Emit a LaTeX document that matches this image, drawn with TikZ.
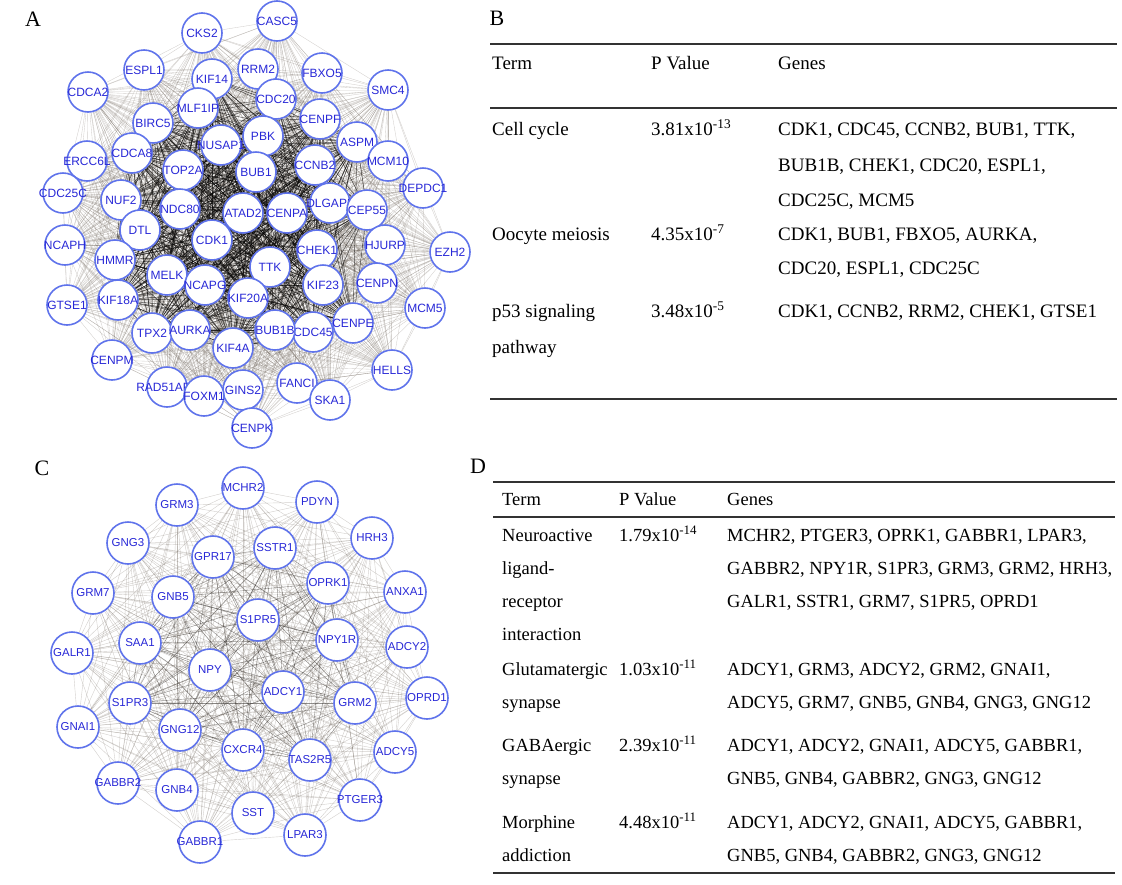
\documentclass[tikz,border=0pt]{standalone}
\usepackage{fontspec}
\setmainfont{Liberation Serif}
\newfontfamily\gfont{Liberation Sans}
\pgfdeclarelayer{bg}
\pgfsetlayers{bg,main}
\definecolor{nodeblue}{RGB}{95,115,235}
\definecolor{txtblue}{RGB}{40,40,215}
\definecolor{rulegray}{RGB}{50,50,50}
\definecolor{edgegray}{RGB}{105,95,85}
\tikzset{
 gA/.style={circle, draw=nodeblue, line width=1.6pt, fill=white, minimum size=40pt, inner sep=0pt, text=txtblue, font=\gfont\fontsize{12}{12}\selectfont},
 gC/.style={gA, minimum size=42pt, font=\gfont\fontsize{11.5}{12}\selectfont},
 edgeA/.style={draw=edgegray, opacity=0.3, line width=0.35pt},
 edgeCore/.style={draw=black, opacity=0.6, line width=0.45pt},
 edgeC/.style={draw=edgegray, opacity=0.3, line width=0.4pt},
 edgeCcore/.style={draw=black, opacity=0.3, line width=0.4pt},
 tb/.style={anchor=base west, inner sep=0pt, font=\fontsize{19}{19}\selectfont},
 tbd/.style={tb, font=\fontsize{18.5}{19}\selectfont},
 tbrule/.style={draw=rulegray, line width=2.2pt},
 plabel/.style={font=\fontsize{22}{22}\selectfont, inner sep=0pt}
}
\newcommand\gnA[3]{\node[gA] (#1) at (#2) {\makebox[0pt]{#3}};}
\newcommand\gnC[3]{\node[gC] (#1) at (#2) {\makebox[0pt]{#3}};}
\newcommand\meshall[2]{%
  \foreach \a [count=\i] in #1 {
    \foreach \b [count=\j] in #1 {
      \ifnum\j>\i \draw[#2] (\a) -- (\b); \fi
    }
  }}
\begin{document}
\begin{tikzpicture}[x=1pt,y=-1pt]
\useasboundingbox (0,0) rectangle (1122,884);
% ---------- Panel A ----------
\node[plabel] (labA) at (33,19) {A};
\gnA{CASC5}{277,21}{CASC5}
\gnA{CKS2}{202,33}{CKS2}
\gnA{ESPL1}{144,70}{ESPL1}
\gnA{CDCA2}{88,92}{CDCA2}
\gnA{SMC4}{388,90}{SMC4}
\gnA{FBXO5}{322,73}{FBXO5}
\gnA{RRM2}{258,69}{RRM2}
\gnA{KIF14}{212,79}{KIF14}
\gnA{CDC20}{276,99}{CDC20}
\gnA{MLF1IP}{198,108}{MLF1IP}
\gnA{CENPF}{320,119}{CENPF}
\gnA{BIRC5}{153,123}{BIRC5}
\gnA{NUSAP1}{221,145}{NUSAP1}
\gnA{PBK}{263,136}{PBK}
\gnA{ASPM}{357,142}{ASPM}
\gnA{ERCC6L}{87,161}{ERCC6L}
\gnA{CDCA8}{132,153}{CDCA8}
\gnA{MCM10}{388,161}{MCM10}
\gnA{TOP2A}{183,170}{TOP2A}
\gnA{CCNB2}{315,165}{CCNB2}
\gnA{BUB1}{256,172}{BUB1}
\gnA{DEPDC1}{423,188}{DEPDC1}
\gnA{CDC25C}{63,193}{CDC25C}
\gnA{NUF2}{121,200}{NUF2}
\gnA{NDC80}{180,209}{NDC80}
\gnA{DLGAP5}{330,203}{DLGAP5}
\gnA{CEP55}{367,210}{CEP55}
\gnA{ATAD2}{243,213}{ATAD2}
\gnA{CENPA}{287,213}{CENPA}
\gnA{DTL}{140,230}{DTL}
\gnA{CDK1}{212,240}{CDK1}
\gnA{NCAPH}{65,245}{NCAPH}
\gnA{HMMR}{115,260}{HMMR}
\gnA{HJURP}{385,245}{HJURP}
\gnA{CHEK1}{317,250}{CHEK1}
\gnA{EZH2}{450,252}{EZH2}
\gnA{MELK}{167,275}{MELK}
\gnA{NCAPG}{205,285}{NCAPG}
\gnA{TTK}{270,267}{TTK}
\gnA{CENPN}{377,283}{CENPN}
\gnA{KIF23}{323,285}{KIF23}
\gnA{GTSE1}{67,305}{GTSE1}
\gnA{KIF18A}{118,300}{KIF18A}
\gnA{KIF20A}{248,298}{KIF20A}
\gnA{MCM5}{425,308}{MCM5}
\gnA{CENPE}{353,323}{CENPE}
\gnA{CDC45}{313,332}{CDC45}
\gnA{BUB1B}{275,330}{BUB1B}
\gnA{TPX2}{152,333}{TPX2}
\gnA{AURKA}{190,330}{AURKA}
\gnA{KIF4A}{233,348}{KIF4A}
\gnA{CENPM}{112,360}{CENPM}
\gnA{HELLS}{392,370}{HELLS}
\gnA{FANCI}{297,383}{FANCI}
\gnA{SKA1}{330,400}{SKA1}
\gnA{GINS2}{243,390}{GINS2}
\gnA{RAD51AP1}{167,387}{RAD51AP1}
\gnA{FOXM1}{204,396}{FOXM1}
\gnA{CENPK}{252,428}{CENPK}
\def\listA{CASC5,CKS2,ESPL1,CDCA2,SMC4,FBXO5,RRM2,KIF14,CDC20,MLF1IP,CENPF,BIRC5,NUSAP1,PBK,ASPM,ERCC6L,CDCA8,MCM10,TOP2A,CCNB2,BUB1,DEPDC1,CDC25C,NUF2,NDC80,DLGAP5,CEP55,ATAD2,CENPA,DTL,CDK1,NCAPH,HMMR,HJURP,CHEK1,EZH2,MELK,NCAPG,TTK,CENPN,KIF23,GTSE1,KIF18A,KIF20A,MCM5,CENPE,CDC45,BUB1B,TPX2,AURKA,KIF4A,CENPM,HELLS,FANCI,SKA1,GINS2,RAD51AP1,FOXM1,CENPK}
\def\coreA{NUSAP1,PBK,BUB1,TOP2A,NDC80,ATAD2,CENPA,CDK1,TTK,NCAPG,MELK,KIF20A,CHEK1,CCNB2,DLGAP5,KIF23,BUB1B,CDC45,AURKA,KIF4A,DTL,NUF2,CDCA8,BIRC5,MLF1IP,CDC20,CENPF,HMMR,KIF18A,TPX2,CENPE,CEP55,ASPM,KIF14}
\begin{pgfonlayer}{bg}
\meshall{\listA}{edgeA}
\meshall{\coreA}{edgeCore}
\end{pgfonlayer}
% ---------- Panel C ----------
\node[plabel] (labC) at (42,468) {C};
\gnC{GRM3}{177,505}{GRM3}
\gnC{MCHR2}{243,488}{MCHR2}
\gnC{PDYN}{317,502}{PDYN}
\gnC{GNG3}{128,543}{GNG3}
\gnC{GPR17}{213,557}{GPR17}
\gnC{SSTR1}{275,548}{SSTR1}
\gnC{HRH3}{372,538}{HRH3}
\gnC{GRM7}{93,593}{GRM7}
\gnC{GNB5}{173,597}{GNB5}
\gnC{OPRK1}{328,583}{OPRK1}
\gnC{ANXA1}{405,592}{ANXA1}
\gnC{S1PR5}{258,620}{S1PR5}
\gnC{SAA1}{140,643}{SAA1}
\gnC{NPY1R}{337,640}{NPY1R}
\gnC{ADCY2}{407,647}{ADCY2}
\gnC{GALR1}{72,653}{GALR1}
\gnC{NPY}{210,670}{NPY}
\gnC{ADCY1}{283,692}{ADCY1}
\gnC{GRM2}{355,703}{GRM2}
\gnC{OPRD1}{427,698}{OPRD1}
\gnC{S1PR3}{130,703}{S1PR3}
\gnC{GNAI1}{78,727}{GNAI1}
\gnC{GNG12}{180,730}{GNG12}
\gnC{CXCR4}{243,750}{CXCR4}
\gnC{TAS2R5}{310,760}{TAS2R5}
\gnC{ADCY5}{395,752}{ADCY5}
\gnC{GABBR2}{118,783}{GABBR2}
\gnC{GNB4}{177,790}{GNB4}
\gnC{PTGER3}{360,800}{PTGER3}
\gnC{SST}{253,813}{SST}
\gnC{LPAR3}{305,835}{LPAR3}
\gnC{GABBR1}{200,842}{GABBR1}
\def\listC{GRM3,MCHR2,PDYN,GNG3,GPR17,SSTR1,HRH3,GRM7,GNB5,OPRK1,ANXA1,S1PR5,SAA1,NPY1R,ADCY2,GALR1,NPY,ADCY1,GRM2,OPRD1,S1PR3,GNAI1,GNG12,CXCR4,TAS2R5,ADCY5,GABBR2,GNB4,PTGER3,SST,LPAR3,GABBR1}
\def\coreC{GPR17,SSTR1,GNB5,OPRK1,S1PR5,SAA1,NPY1R,NPY,ADCY1,GRM2,S1PR3,GNG12,CXCR4,TAS2R5}
\begin{pgfonlayer}{bg}
\meshall{\listC}{edgeC}
\meshall{\coreC}{edgeCcore}
\end{pgfonlayer}
% ---------- Panel B ----------
\node[plabel] (labB) at (497,18) {B};
\draw[tbrule] (490,44) -- (1117,44);
\draw[tbrule] (490,108) -- (1117,108);
\draw[tbrule] (490,399) -- (1117,399);
\node[tb] (bh1) at (492,69) {Term};
\node[tb] (bh2) at (651,69) {P Value};
\node[tb] (bh3) at (778,69) {Genes};
\node[tb] (b11) at (492,135) {Cell cycle};
\node[tb] (b12) at (651,135) {3.81x10\textsuperscript{-13}};
\node[tb] (b13) at (778,135) {CDK1, CDC45, CCNB2, BUB1, TTK,};
\node[tb] (b14) at (778,171) {BUB1B, CHEK1, CDC20, ESPL1,};
\node[tb] (b15) at (778,206) {CDC25C, MCM5};
\node[tb] (b21) at (492,240) {Oocyte meiosis};
\node[tb] (b22) at (651,240) {4.35x10\textsuperscript{-7}};
\node[tb] (b23) at (778,240) {CDK1, BUB1, FBXO5, AURKA,};
\node[tb] (b24) at (778,274) {CDC20, ESPL1, CDC25C};
\node[tb] (b31) at (492,317) {p53 signaling};
\node[tb] (b32) at (492,353) {pathway};
\node[tb] (b33) at (651,317) {3.48x10\textsuperscript{-5}};
\node[tb] (b34) at (778,317) {CDK1, CCNB2, RRM2, CHEK1, GTSE1};
% ---------- Panel D ----------
\node[plabel] (labD) at (478,466) {D};
\draw[tbrule] (493,482) -- (1115,482);
\draw[tbrule] (493,517) -- (1115,517);
\draw[tbrule] (493,873) -- (1115,873);
\node[tbd] (dh1) at (502,505) {Term};
\node[tbd] (dh2) at (619,505) {P Value};
\node[tbd] (dh3) at (727,505) {Genes};
\node[tbd] (d11) at (502,541) {Neuroactive};
\node[tbd] (d12) at (502,574) {ligand-};
\node[tbd] (d13) at (502,607) {receptor};
\node[tbd] (d14) at (502,640) {interaction};
\node[tbd] (d15) at (619,541) {1.79x10\textsuperscript{-14}};
\node[tbd] (d16) at (727,541) {MCHR2, PTGER3, OPRK1, GABBR1, LPAR3,};
\node[tbd] (d17) at (727,574) {GABBR2, NPY1R, S1PR3, GRM3, GRM2, HRH3,};
\node[tbd] (d18) at (727,607) {GALR1, SSTR1, GRM7, S1PR5, OPRD1};
\node[tbd] (d21) at (502,675) {Glutamatergic};
\node[tbd] (d22) at (502,708) {synapse};
\node[tbd] (d23) at (619,675) {1.03x10\textsuperscript{-11}};
\node[tbd] (d24) at (727,675) {ADCY1, GRM3, ADCY2, GRM2, GNAI1,};
\node[tbd] (d25) at (727,708) {ADCY5, GRM7, GNB5, GNB4, GNG3, GNG12};
\node[tbd] (d31) at (502,751) {GABAergic};
\node[tbd] (d32) at (502,784) {synapse};
\node[tbd] (d33) at (619,751) {2.39x10\textsuperscript{-11}};
\node[tbd] (d34) at (727,751) {ADCY1, ADCY2, GNAI1, ADCY5, GABBR1,};
\node[tbd] (d35) at (727,784) {GNB5, GNB4, GABBR2, GNG3, GNG12};
\node[tbd] (d41) at (502,828) {Morphine};
\node[tbd] (d42) at (502,861) {addiction};
\node[tbd] (d43) at (619,828) {4.48x10\textsuperscript{-11}};
\node[tbd] (d44) at (727,828) {ADCY1, ADCY2, GNAI1, ADCY5, GABBR1,};
\node[tbd] (d45) at (727,861) {GNB5, GNB4, GABBR2, GNG3, GNG12};
\end{tikzpicture}
\end{document}
